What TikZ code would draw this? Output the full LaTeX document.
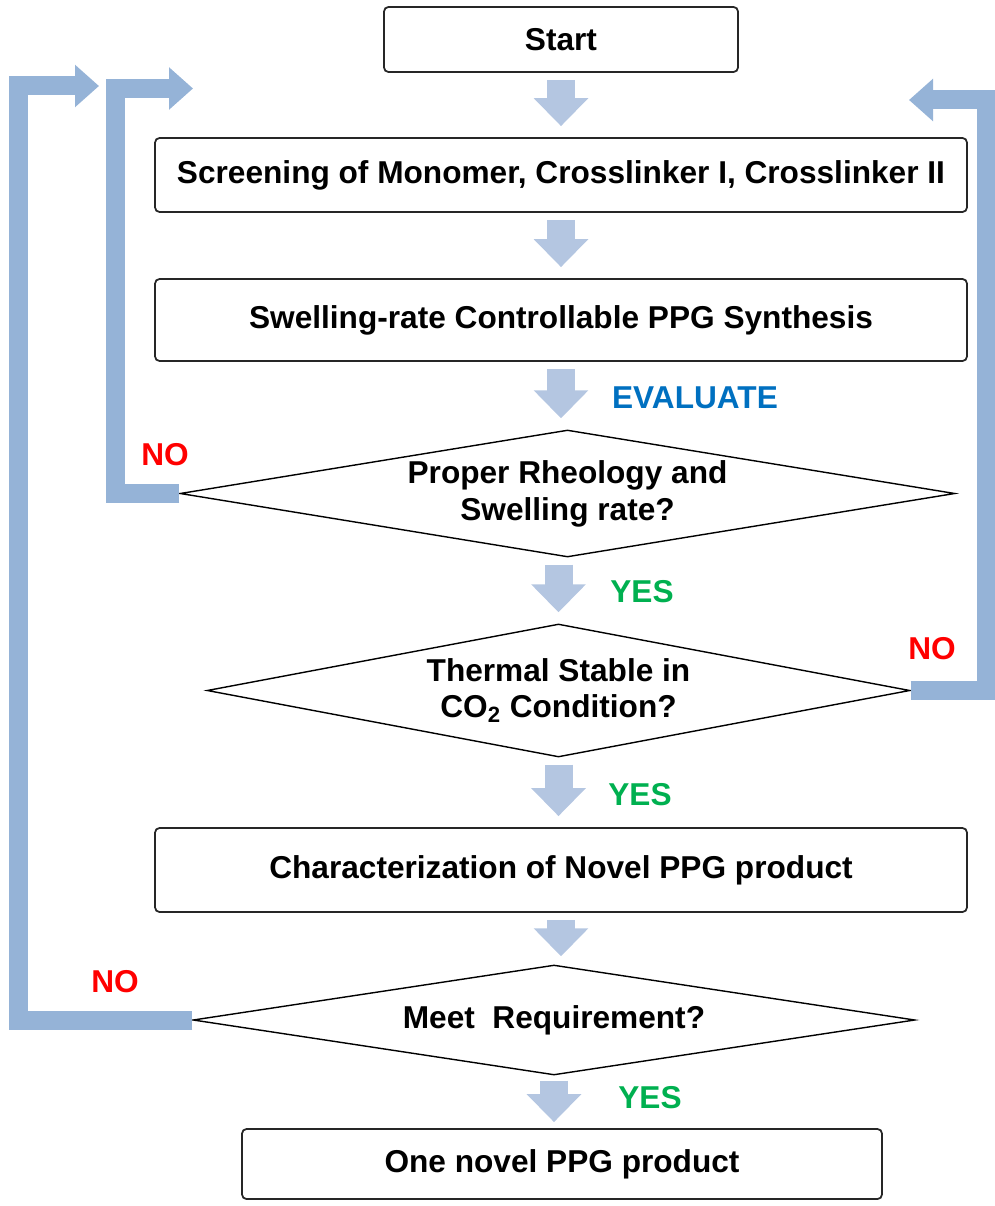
\documentclass[tikz,border=0pt]{standalone}
\usepackage{fontspec}
\setmainfont{Liberation Sans}
\usetikzlibrary{shapes.geometric,arrows.meta}
\definecolor{loopblue}{HTML}{95B3D7}
\definecolor{downblue}{HTML}{B4C6E1}
\definecolor{evalblue}{HTML}{0070C0}
\definecolor{yesgreen}{HTML}{00B050}
\begin{document}
\begin{tikzpicture}[x=0.02cm,y=-0.02cm,
    every node/.style={font=\fontsize{18}{21}\selectfont\bfseries},
    stepbox/.style={draw=black!85,line width=1pt,rounded corners=2.5pt,minimum width=16.24cm,inner sep=0pt},
    decision/.style={draw,line width=0.8pt,diamond,inner sep=0pt,align=center},
    downarrow/.style={draw=downblue,line width=0.56cm,-{Triangle[length=0.56cm,width=1.06cm]},shorten <=0.14cm,shorten >=0.22cm},
    backarrow/.style={draw=loopblue,line width=0.38cm,line join=miter,-{Triangle[length=0.48cm,width=0.82cm]}},
    yes/.style={text=yesgreen},
    no/.style={text=red}]
\useasboundingbox (0,0) rectangle (994,1206);

\node[stepbox,minimum width=7.08cm,minimum height=1.3cm] (start) at (561,39.5) {Start};
\node[stepbox,minimum height=1.48cm] (screen) at (561,175) {Screening of Monomer, Crosslinker I, Crosslinker II};
\node[stepbox,minimum height=1.64cm] (synth) at (561,320) {Swelling-rate Controllable PPG Synthesis};
\node[decision,minimum width=15.5cm,minimum height=2.54cm,aspect=6.1] (rheo) at (567.5,493.5) {Proper Rheology and\\Swelling rate?};
\node[decision,minimum width=14.06cm,minimum height=2.66cm,aspect=5.3] (thermal) at (558.5,690.5) {Thermal Stable in\\CO\textsubscript{2} Condition?};
\node[stepbox,minimum height=1.68cm] (charac) at (561,870) {Characterization of Novel PPG product};
\node[decision,minimum width=14.44cm,minimum height=2.2cm,aspect=6.5] (meet) at (554,1020) {Meet~ Requirement?};
\node[stepbox,minimum width=12.8cm,minimum height=1.4cm] (product) at (562,1164) {One novel PPG product};

\draw[downarrow] (start) -- (screen);
\draw[downarrow] (screen) -- (synth);
\draw[downarrow] (synth.south) -- (synth.south |- rheo.north);
\draw[downarrow] (thermal.north |- rheo.south) -- (thermal.north);
\draw[downarrow] (thermal.south) -- (thermal.south |- charac.north);
\draw[downarrow,shorten >=0.16cm] (charac.south) -- (charac.south |- meet.north);
\draw[downarrow,shorten <=0.1cm,shorten >=0.12cm] (meet.south) -- (meet.south |- product.north);

\coordinate (tipA) at (193,88.5);
\coordinate (tipB) at (99,86);
\coordinate (tipC) at (909,100);
\draw[backarrow] (rheo.west) -- ++(-64,0) |- (tipA);
\draw[backarrow] (meet.west) -- ++(-174,0) |- (tipB);
\draw[backarrow] (thermal.east) -- ++(75.5,0) |- (tipC);

\node[text=evalblue] (evaluate) at (695,398) {EVALUATE};
\node[yes] (yes1) at (642,592) {YES};
\node[yes] (yes2) at (640,795) {YES};
\node[yes] (yes3) at (650,1098) {YES};
\node[no] (no1) at (165,455) {NO};
\node[no] (no2) at (932,649) {NO};
\node[no] (no3) at (115,982) {NO};
\end{tikzpicture}
\end{document}
